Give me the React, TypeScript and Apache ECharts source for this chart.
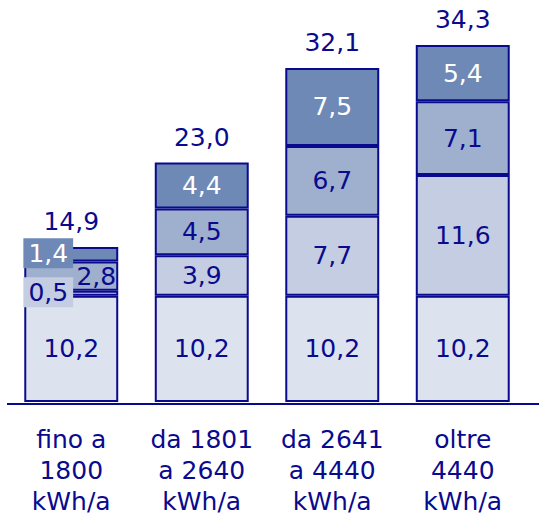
import React, { useEffect, useRef } from "react";
import * as echarts from "echarts";

const categories = ["fino a\n1800\nkWh/a", "da 1801\na 2640\nkWh/a", "da 2641\na 4440\nkWh/a", "oltre\n4440\nkWh/a"];
const seg1 = [10.2, 10.2, 10.2, 10.2];
const seg2 = [0.5, 3.9, 7.7, 11.6];
const seg3 = [2.8, 4.5, 6.7, 7.1];
const seg4 = [1.4, 4.4, 7.5, 5.4];
const totals = [14.9, 23.0, 32.1, 34.3];

const colors = ["#dce3ee", "#c4cde1", "#9fb0cf", "#6e89b6"];
const navy = "#0a0a8e";
const FONT = "DejaVu Sans";

const fmt = (v: number) => v.toFixed(1).replace(".", ",");

export default function App() {
  const ref = useRef<HTMLDivElement>(null);
  useEffect(() => {
    const chart = echarts.init(ref.current!, null, { renderer: "svg" });
    const mk = (data: number[], i: number, overrides: Record<number, any> = {}, z = 2) => ({
      type: "bar",
      stack: "s",
      barWidth: "72%",
      z,
      itemStyle: { color: colors[i], borderColor: navy, borderWidth: 2 },
      label: {
        show: true,
        position: "inside",
        color: i === 3 ? "#ffffff" : navy,
        fontFamily: FONT,
        fontSize: 25,
        formatter: (p: any) => fmt(p.value),
      },
      data: data.map((v, k) => (overrides[k] ? { value: v, label: overrides[k] } : v)),
    });
    chart.setOption({
      animation: false,
      grid: { left: 6, right: 11, top: 45, bottom: 113 },
      xAxis: {
        type: "category",
        data: categories,
        axisLine: { show: false },
        axisTick: { show: false },
        axisLabel: { interval: 0, color: navy, fontFamily: FONT, fontSize: 25, lineHeight: 31, margin: 22 },
      },
      yAxis: { type: "value", min: 0, max: 34.3, show: false, splitLine: { show: false } },
      series: [
        mk(seg1, 0),
        mk(
          seg2,
          1,
          { 0: { offset: [-23, -1], backgroundColor: colors[1], padding: [3, 5, 2, 5] } },
          4
        ),
        mk(seg3, 2, { 0: { offset: [25, 0] } }),
        mk(
          seg4,
          3,
          { 0: { offset: [-23, -1], backgroundColor: colors[3], padding: [3, 5, 2, 5] } },
          4
        ),
        {
          type: "bar",
          stack: "s",
          barWidth: "72%",
          itemStyle: { color: "transparent", borderWidth: 0 },
          label: {
            show: true,
            position: "top",
            distance: 13,
            color: navy,
            fontFamily: FONT,
            fontSize: 25,
            formatter: (p: any) => fmt(totals[p.dataIndex]),
          },
          data: totals.map(() => 0),
        },
      ],
      graphic: [
        {
          type: "line",
          z: 10,
          shape: { x1: 7, y1: 404, x2: 539, y2: 404 },
          style: { stroke: navy, lineWidth: 2 },
        },
      ],
    });
    return () => chart.dispose();
  }, []);
  return <div ref={ref} style={{ width: 539, height: 517, position: "absolute", left: 0, top: 0 }} />;
}
